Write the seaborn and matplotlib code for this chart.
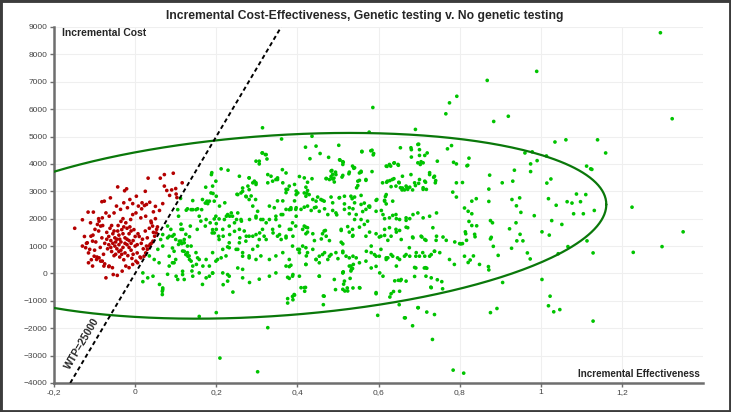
import numpy as np
import pandas as pd
import matplotlib
matplotlib.use("Agg")
import matplotlib.pyplot as plt
import seaborn as sns
from matplotlib.patches import Rectangle
from matplotlib.ticker import FixedLocator, FixedFormatter

# willingness-to-pay threshold (cost per unit of effect)
WTP = 25000

# simulations above the WTP line (not cost-effective)
red_pts = [
    (-0.149, 1650), (-0.130, 1960), (-0.116, 2240), (-0.103, 2240), (-0.082, 2620), (-0.076, 2640),
    (-0.061, 2760), (-0.043, 3160), (-0.026, 3020), (-0.021, 3090), (0.003, 2820), (0.025, 3000),
    (0.032, 3480), (0.062, 3480), (0.072, 3610), (0.094, 3660), (0.116, 3310), (0.100, 3100),
    (0.101, 2900), (0.103, 2770), (0.078, 3030), (0.072, 3190), (0.017, 2580), (0.028, 2520),
    (0.036, 2600), (0.008, 2460), (0.016, 2360), (0.023, 2480), (0.060, 2300), (0.068, 2550),
    (0.085, 2850), (0.090, 3050), (0.045, 2250), (0.050, 2450),
    (-0.013, 2700), (-0.006, 2550), (-0.019, 2400), (-0.028, 2580), (-0.036, 2340), (-0.046, 2460),
    (-0.052, 2210), (-0.064, 2090), (-0.072, 2210), (-0.081, 2030), (-0.089, 1910), (-0.093, 1790),
    (-0.085, 1730), (-0.099, 1610), (-0.109, 1360), (-0.105, 1180), (-0.118, 1120), (-0.112, 880),
    (-0.122, 940), (-0.101, 630), (-0.095, 510), (-0.089, 570), (-0.081, 450), (-0.115, 390),
    (-0.105, 270), (-0.077, 270), (-0.064, 270), (-0.056, 210), (-0.054, -40), (-0.044, -70),
    (-0.072, -160), (-0.032, 85), (-0.023, 270), (-0.015, 210), (-0.006, 330), (0.006, 390),
    (0.014, 570), (0.022, 630), (0.026, 750), (0.030, 880), (0.037, 1060), (0.035, 1000),
    (0.044, 1180), (0.048, 1360), (0.052, 1480), (0.053, 1610), (0.043, 1730), (0.039, 1910),
    (0.026, 2090), (0.014, 2030), (0.002, 2210), (-0.006, 2150), (-0.011, 1970),
    (-0.070, 1500), (-0.065, 1350), (-0.060, 1200), (-0.055, 1100), (-0.050, 1000), (-0.045, 1250),
    (-0.040, 1400), (-0.035, 1150), (-0.030, 950), (-0.025, 1300), (-0.020, 1050), (-0.015, 1450),
    (-0.010, 850), (-0.005, 1200), (0.000, 1000), (0.005, 750), (0.010, 1350), (0.015, 1100),
    (0.020, 900), (0.025, 1550), (-0.068, 900), (-0.062, 1650), (-0.058, 800), (-0.052, 1550),
    (-0.048, 700), (-0.042, 1750), (-0.038, 600), (-0.033, 1600), (-0.028, 500), (-0.023, 1850),
    (-0.018, 650), (-0.013, 1700), (-0.008, 550), (-0.003, 1600), (0.002, 450), (0.007, 1450),
    (0.012, 600), (0.018, 1250), (0.028, 1000), (-0.075, 1100), (-0.078, 700), (-0.082, 1300),
    (-0.086, 950), (-0.090, 1550), (-0.094, 600), (-0.097, 1150), (-0.100, 850), (-0.104, 1400),
    (-0.108, 500), (-0.040, 1050), (-0.035, 850), (-0.030, 1450), (-0.025, 750), (-0.020, 1250),
    (-0.015, 950), (-0.010, 1550), (-0.005, 700), (0.000, 1350), (0.005, 1050), (-0.055, 1450),
    (-0.050, 1300), (-0.045, 900), (-0.040, 800), (-0.035, 1900), (-0.030, 2000), (-0.025, 1100),
    (-0.020, 1650), (-0.015, 1200), (-0.010, 1100), (-0.070, 1250), (-0.065, 1050), (-0.060, 950),
    (-0.058, 1750), (-0.052, 650), (-0.048, 1150), (-0.043, 1550), (-0.038, 1250), (-0.033, 700),
    (-0.028, 1700), (0.030, 1300), (0.040, 1100), (0.035, 1650), (0.040, 1850), (0.045, 1500),
    (0.050, 2000), (0.055, 1700), (-0.120, 1100), (-0.125, 1350), (-0.115, 750), (-0.130, 1000),
    (-0.110, 1850), (-0.090, 2000), (-0.080, 1750), (-0.085, 450), (-0.075, 350), (-0.065, 250),
]

# simulations below the WTP line (cost-effective)
green_pts = [
    # right-hand side and outliers
    (1.295, 8790), (0.990, 7380), (0.868, 7050), (0.793, 6470), (0.775, 6230), (0.766, 5830),
    (0.884, 5550), (0.920, 5740), (1.324, 5650), (0.691, 5260), (1.140, 4880), (1.062, 4880),
    (1.035, 4800), (1.160, 4400), (1.113, 3920), (1.123, 3820), (1.126, 3800), (1.225, 2420),
    (1.014, 4290), (0.979, 4440), (0.961, 4400), (0.975, 4000), (0.975, 3720), (0.991, 4120),
    (0.823, 4210), (0.818, 3930), (0.820, 3950), (0.935, 3770), (0.874, 3590), (0.807, 3320),
    (0.931, 3370), (0.905, 3310), (1.025, 3450), (1.015, 3300), (0.872, 3080), (0.841, 2730),
    (0.830, 2640), (0.929, 2700), (0.948, 2760), (0.872, 2630), (1.019, 2730), (1.088, 2900),
    (1.111, 2880), (1.065, 2620), (1.077, 2570), (1.098, 2620), (1.038, 2490), (0.940, 2470),
    (0.812, 2390), (0.821, 2270), (0.830, 2180), (1.132, 2300), (0.951, 2230), (1.081, 2180),
    (1.105, 2180), (0.984, 2110), (0.876, 1930), (0.881, 1850), (0.823, 1900), (0.830, 1750),
    (0.842, 1740), (0.939, 1850), (1.027, 1930), (1.052, 1790), (0.923, 1630), (1.003, 1520),
    (1.021, 1400), (0.814, 1520), (0.815, 1450), (0.837, 1430), (0.838, 1340), (0.949, 1430),
    (0.878, 1320), (0.876, 1260), (0.941, 1190), (0.956, 1190), (0.807, 1090), (0.803, 1080),
    (1.114, 1190), (0.883, 990), (1.067, 980), (0.928, 920), (0.967, 750), (1.043, 720),
    (1.129, 750), (0.812, 630), (0.834, 640), (0.826, 490), (0.821, 400), (0.895, 660),
    (0.974, 530), (0.849, 330), (0.871, 250), (0.872, 130), (1.228, 770), (1.299, 980),
    (1.351, 1520), (0.906, -330), (1.003, -220), (1.023, -830), (1.019, -1180), (1.032, -1400),
    (1.047, -1320), (0.876, -1430), (0.892, -1280), (1.129, -1740),
    # lower part
    (0.209, -3090), (0.302, -3590), (0.784, -3530), (0.810, -3640), (0.733, -2410), (0.327, -1980),
    (0.200, -1430), (0.158, -1570), (0.598, -1530), (0.666, -1620), (0.684, -1910), (0.698, -1250),
    (0.719, -1410), (0.651, -1140), (0.628, -860), (0.631, -740), (0.594, -740), (0.393, -790),
    (0.388, -840), (0.376, -920), (0.464, -820), (0.464, -1140), (0.494, -590), (0.517, -640),
    (0.523, -530), (0.537, -530), (0.554, -530), (0.420, -510), (0.241, -680), (0.265, -160),
    (0.191, 10), (0.175, -160), (0.217, -410), (0.228, -280), (0.729, -500), (0.758, -560),
    (0.745, -230), (0.756, -300), (0.716, 210), (0.719, 190), (0.689, 220), (0.689, -110),
    (0.640, -270), (0.649, -250), (0.654, -260), (0.637, -660), (0.619, 510), (0.611, -100),
    (0.594, 260), (0.513, 60), (0.514, -390), (0.530, -180), (0.536, 180), (0.538, 330),
    (0.380, 250), (0.384, 300), (0.380, -180), (0.376, -140),
    # middle band 0.4 - 0.8
    (0.586, 6060), (0.577, 5160), (0.436, 5010), (0.420, 4610), (0.446, 4650), (0.477, 4240),
    (0.502, 4680), (0.504, 4150), (0.512, 4080), (0.456, 4380), (0.431, 4190), (0.559, 4440),
    (0.581, 4480), (0.587, 4330), (0.654, 4590), (0.638, 4030), (0.649, 3950), (0.621, 3910),
    (0.630, 3920), (0.681, 4520), (0.681, 4250), (0.699, 4720), (0.701, 4520), (0.720, 4400),
    (0.705, 4080), (0.703, 3980), (0.745, 4100), (0.770, 4550), (0.780, 4670), (0.785, 4060),
    (0.792, 4000), (0.485, 3760), (0.494, 3700), (0.483, 3540), (0.490, 3480), (0.479, 3430),
    (0.471, 3460), (0.491, 3340), (0.510, 3520), (0.527, 3640), (0.539, 3840), (0.557, 3700),
    (0.553, 3400), (0.549, 3210), (0.546, 3130), (0.569, 3400), (0.584, 3720), (0.405, 3540),
    (0.417, 3490), (0.436, 3460), (0.425, 3330), (0.421, 3150), (0.425, 3030), (0.423, 2930),
    (0.620, 3330), (0.628, 3390), (0.638, 3460), (0.631, 3170), (0.650, 3330), (0.654, 3130),
    (0.658, 3050), (0.664, 3050), (0.670, 3130), (0.677, 3150), (0.684, 3050), (0.691, 3210),
    (0.699, 3290), (0.710, 3130), (0.716, 3330), (0.726, 3610), (0.736, 3510), (0.741, 3390),
    (0.792, 3310), (0.783, 2970), (0.792, 2790), (0.450, 2790), (0.462, 2670), (0.483, 2790),
    (0.504, 2770), (0.516, 2540), (0.535, 2730), (0.541, 2790), (0.557, 2850), (0.565, 2570),
    (0.576, 2450), (0.594, 2670), (0.617, 2810), (0.615, 2670), (0.619, 2540), (0.417, 2420),
    (0.434, 2300), (0.446, 2420), (0.467, 2360), (0.487, 2300), (0.497, 2140), (0.528, 2180),
    (0.537, 2360), (0.561, 2260), (0.578, 2420), (0.607, 2300), (0.615, 2000), (0.635, 2120),
    (0.644, 2000), (0.668, 1940), (0.677, 2000), (0.421, 1690), (0.425, 1510), (0.421, 1450),
    (0.438, 1450), (0.442, 1200), (0.459, 1260), (0.462, 1450), (0.469, 1570), (0.479, 1200),
    (0.508, 1570), (0.524, 1710), (0.528, 1510), (0.537, 1390), (0.508, 1140), (0.512, 1080),
    (0.553, 1690), (0.565, 1790), (0.578, 1510), (0.594, 1450), (0.602, 1330), (0.615, 1390),
    (0.623, 1210), (0.644, 1510), (0.652, 1570), (0.668, 1690), (0.684, 1330), (0.707, 1330),
    (0.717, 1210), (0.742, 1210), (0.759, 1330), (0.767, 1210), (0.788, 1150), (0.800, 1090),
    (0.817, 1210), (0.405, 880), (0.421, 940), (0.446, 510), (0.454, 630), (0.467, 760),
    (0.479, 630), (0.483, 690), (0.500, 540), (0.512, 760), (0.520, 630), (0.537, 630),
    (0.570, 810), (0.582, 1000), (0.590, 690), (0.602, 630), (0.623, 570), (0.635, 630),
    (0.652, 510), (0.668, 690), (0.677, 630), (0.693, 760), (0.701, 630), (0.714, 630),
    (0.730, 690), (0.738, 810), (0.751, 760), (0.775, 510), (0.787, 330), (0.421, 330),
    (0.454, 390), (0.512, 30), (0.528, 270), (0.533, 150), (0.491, -220), (0.516, -280),
    (0.730, -160), (0.652, -650), (0.409, -520), (0.454, -100),
    # left band 0 - 0.4
    (0.314, 5320), (0.361, 4910), (0.313, 4400), (0.321, 4340), (0.325, 4180), (0.298, 4100),
    (0.306, 4000), (0.189, 3680), (0.212, 3820), (0.229, 3770), (0.188, 3610), (0.199, 3370),
    (0.174, 3150), (0.192, 2920), (0.177, 2640), (0.142, 2660), (0.112, 2740), (0.105, 2330),
    (0.129, 2360), (0.142, 2330), (0.154, 2360), (0.164, 2330), (0.107, 2090), (0.257, 3550),
    (0.281, 3490), (0.294, 3370), (0.298, 3310), (0.278, 3190), (0.265, 3000), (0.251, 2890),
    (0.274, 2800), (0.286, 2830), (0.297, 2700), (0.327, 3610), (0.335, 3550), (0.347, 3430),
    (0.351, 3490), (0.363, 3790), (0.372, 3670), (0.380, 3190), (0.372, 3070), (0.372, 2950),
    (0.397, 3010), (0.200, 2820), (0.195, 2640), (0.208, 2460), (0.221, 2580), (0.225, 2090),
    (0.233, 2090), (0.237, 2210), (0.250, 1970), (0.262, 1910), (0.282, 1970), (0.298, 2030),
    (0.315, 1970), (0.331, 1970), (0.347, 2090), (0.364, 2150), (0.380, 2330), (0.397, 2400),
    (0.136, 1730), (0.153, 1610), (0.173, 1730), (0.185, 1850), (0.190, 1480), (0.200, 1610),
    (0.217, 1360), (0.233, 1420), (0.245, 1540), (0.258, 1300), (0.274, 1360), (0.290, 1360),
    (0.307, 1480), (0.323, 1240), (0.340, 1480), (0.356, 1420), (0.372, 1300), (0.389, 1360),
    (0.413, 1610), (0.068, 1420), (0.080, 1300), (0.092, 1360), (0.109, 1180), (0.121, 1120),
    (0.138, 1000), (0.117, 820), (0.129, 760), (0.133, 640), (0.150, 760), (0.158, 510),
    (0.175, 510), (0.191, 760), (0.203, 510), (0.224, 640), (0.232, 940), (0.249, 880),
    (0.265, 760), (0.281, 640), (0.298, 510), (0.310, 640), (0.331, 510), (0.347, 640),
    (0.364, 760), (0.380, 510), (0.405, 760), (0.422, 640), (0.035, 640), (0.047, 510),
    (0.059, 390), (0.084, 270), (0.096, 390), (0.117, 80), (0.142, -100), (0.158, 20),
    (0.183, -100), (0.216, 20), (0.232, -100), (0.253, 200), (0.265, 150), (0.282, -330),
    (0.306, -210), (0.331, -100), (0.347, 20), (0.372, 270), (0.389, -40), (0.405, -100),
    (0.019, 20), (0.031, -160), (0.068, -530), (0.068, -590), (0.121, -220), (0.166, -400),
    (0.376, -1080), (0.389, -960), (0.418, -650), (0.166, 2700), (0.158, 2090), (0.175, 1970),
    (0.199, 2090), (0.080, 1730), (0.088, 1610), (0.096, 1420), (0.113, 1610), (0.121, 1240),
    (0.129, 1000), (0.063, 1240), (0.068, 1000), (0.056, 880), (0.044, -100), (0.019, -300),
    (0.060, -400), (0.101, -100), (0.117, -40), (0.151, 330), (0.167, 270),
    # second, closer reading of the dense part 0.1 - 0.75
    (0.191, 3190), (0.187, 2940), (0.183, 2640), (0.179, 2550), (0.173, 2570), (0.138, 2330),
    (0.150, 2330), (0.126, 2310), (0.162, 1910), (0.195, 1990), (0.207, 1990), (0.200, 1820),
    (0.191, 1600), (0.195, 1480), (0.206, 1360), (0.113, 1800), (0.117, 1610), (0.125, 1430),
    (0.134, 1340), (0.084, 1360), (0.100, 1240), (0.107, 1060), (0.113, 1180), (0.115, 1090),
    (0.092, 930), (0.096, 810), (0.084, 630), (0.121, 810), (0.125, 690), (0.130, 630),
    (0.134, 510), (0.138, 450), (0.142, 270), (0.140, 90), (0.154, 570), (0.100, 510),
    (0.092, 390), (0.080, -30), (0.105, -220), (0.067, -650), (0.067, -770), (0.228, -40),
    (0.191, 20), (0.183, 270), (0.199, 450), (0.212, 570), (0.216, 880), (0.228, 970),
    (0.232, 1120), (0.207, 1240), (0.216, 1610), (0.232, 1730), (0.245, 1850), (0.240, 2090),
    (0.228, 2150), (0.220, 1970), (0.253, 2210), (0.261, 1970), (0.257, 1610), (0.269, 1550),
    (0.281, 1360), (0.273, 1180), (0.257, 1120), (0.253, 880), (0.265, 630), (0.281, 570),
    (0.290, 880), (0.302, 1000), (0.306, 1240), (0.298, 1420), (0.314, 1610), (0.318, 1360),
    (0.323, 1850), (0.310, 1970), (0.298, 2090), (0.302, 2270), (0.290, 2460), (0.281, 2700),
    (0.273, 2820), (0.261, 2940), (0.253, 2880), (0.265, 3120), (0.281, 3060), (0.290, 3310),
    (0.281, 3490), (0.298, 3250), (0.331, 2460), (0.343, 2400), (0.351, 2650), (0.364, 2650),
    (0.372, 2340), (0.360, 2150), (0.347, 1970), (0.356, 1730), (0.339, 1610), (0.351, 1360),
    (0.360, 1240), (0.372, 1360), (0.380, 1610), (0.388, 1850), (0.397, 2090), (0.384, 2400),
    (0.393, 2650), (0.397, 2880), (0.376, 3070), (0.364, 3310), (0.351, 3430), (0.339, 3370),
    (0.327, 3310), (0.323, 4340), (0.314, 4400), (0.306, 4100),
    (0.505, 4140), (0.513, 4060), (0.512, 3980), (0.483, 3740), (0.487, 3620), (0.471, 3470),
    (0.487, 3450), (0.495, 3610), (0.512, 3580), (0.528, 3700), (0.536, 3920), (0.541, 3860),
    (0.553, 3670), (0.557, 3730), (0.549, 3370), (0.569, 3430), (0.559, 4460), (0.584, 4500),
    (0.588, 4380), (0.619, 3920), (0.627, 3980), (0.639, 4040), (0.648, 3980), (0.610, 3310),
    (0.622, 3370), (0.634, 3430), (0.643, 3190), (0.651, 3310), (0.659, 3120), (0.668, 3190),
    (0.672, 3070), (0.659, 3550), (0.680, 3610), (0.689, 3310), (0.701, 3430), (0.710, 3070),
    (0.718, 3070), (0.714, 3370), (0.726, 3680), (0.738, 3550), (0.740, 3310), (0.697, 4040),
    (0.701, 4310), (0.714, 4310), (0.710, 4040), (0.680, 4590), (0.697, 4710), (0.393, 3250),
    (0.401, 2940), (0.417, 2940), (0.421, 2820), (0.429, 2880), (0.438, 2700), (0.446, 2640),
    (0.458, 2700), (0.466, 2640), (0.487, 2580), (0.503, 2760), (0.516, 2820), (0.532, 2820),
    (0.541, 2580), (0.557, 2520), (0.569, 2340), (0.578, 2460), (0.596, 2700), (0.615, 2640),
    (0.619, 2880), (0.635, 2640), (0.384, 2340), (0.396, 2340), (0.409, 2340), (0.425, 2460),
    (0.442, 2400), (0.454, 2270), (0.475, 2150), (0.495, 2210), (0.516, 2340), (0.528, 2400),
    (0.541, 1970), (0.545, 2150), (0.557, 1970), (0.573, 1910), (0.594, 2270), (0.611, 2150),
    (0.627, 2030), (0.643, 2150), (0.652, 1970), (0.668, 2030), (0.685, 2150), (0.697, 2210),
    (0.710, 2030), (0.726, 2090), (0.743, 2210), (0.384, 1610), (0.396, 1730), (0.417, 1730),
    (0.425, 1670), (0.466, 1550), (0.471, 1360), (0.508, 1610), (0.536, 1360), (0.536, 1610),
    (0.569, 1360), (0.606, 1360), (0.615, 1610), (0.627, 1670), (0.631, 1360), (0.643, 1610),
    (0.656, 1240), (0.672, 1670), (0.685, 1300), (0.705, 1360), (0.714, 1240), (0.734, 1670),
    (0.743, 1360), (0.388, 1000), (0.401, 880), (0.413, 1000), (0.425, 760), (0.438, 880),
    (0.446, 510), (0.462, 690), (0.475, 510), (0.495, 760), (0.512, 810), (0.528, 570),
    (0.545, 570), (0.553, 390), (0.569, 450), (0.582, 760), (0.594, 630), (0.606, 880),
    (0.619, 570), (0.631, 690), (0.647, 570), (0.664, 630), (0.676, 940), (0.692, 630),
    (0.709, 760), (0.726, 630), (0.738, 810), (0.388, -100), (0.421, 330), (0.454, -100),
    (0.512, 20), (0.532, 270), (0.532, 90), (0.582, 200), (0.603, 20), (0.644, 270),
    (0.656, -220), (0.668, -280), (0.692, 200), (0.713, 200), (0.717, -100), (0.730, -520),
    (0.392, -770), (0.417, -520), (0.466, -830), (0.512, -580), (0.524, -640), (0.553, -520),
    (0.594, -700), (0.664, -1620), (0.697, -1250), (0.738, -1500),
]

# 95% ellipse around the joint distribution (centre and covariance as read)
ell_center = (0.34, 1740)
ell_cov = [[0.675, 640.0], [640.0, 1.15e7]]

x_ticks = [-0.2, 0, 0.2, 0.4, 0.6, 0.8, 1, 1.2]
x_labels = ['-0,2', '0', '0,2', '0,4', '0,6', '0,8', '1', '1,2']
y_ticks = list(range(-4000, 9001, 1000))

red = pd.DataFrame(red_pts, columns=['effect', 'cost'])
red['group'] = 'above'
green = pd.DataFrame(green_pts, columns=['effect', 'cost'])
green['group'] = 'below'
df = pd.concat([green, red], ignore_index=True)

sns.set_style('white')
plt.rcParams['font.family'] = ['Liberation Sans', 'DejaVu Sans']

fig = plt.figure(figsize=(7.31, 4.12), dpi=100)
ax = fig.add_axes([0.0739, 0.0704, 0.8878, 0.8641])

sns.scatterplot(data=df, x='effect', y='cost', hue='group',
                palette={'below': '#00c400', 'above': '#b40000'},
                s=7, linewidth=0, legend=False, ax=ax, zorder=3)

# confidence ellipse
t = np.linspace(0, 2 * np.pi, 400)
L = np.linalg.cholesky(np.array(ell_cov))
pts = L @ np.vstack([np.cos(t), np.sin(t)])
ax.plot(ell_center[0] + pts[0], ell_center[1] + pts[1], color='#0a780a', lw=1.6, zorder=4)

# WTP line
ax.axline((0, 0), slope=WTP, color='black', lw=1.4, ls=(0, (2.2, 1.6)), zorder=5)

ax.set_xlim(-0.2, 1.4)
ax.set_ylim(-4000, 9000)
ax.xaxis.set_major_locator(FixedLocator(x_ticks))
ax.xaxis.set_major_formatter(FixedFormatter(x_labels))
ax.set_yticks(y_ticks)
ax.set_xlabel('')
ax.set_ylabel('')
ax.grid(True, color='#efefef', lw=0.8)
ax.set_axisbelow(True)
for side in ['top', 'right']:
    ax.spines[side].set_visible(False)
for side in ['left', 'bottom']:
    ax.spines[side].set_color('#6e6e6e')
    ax.spines[side].set_linewidth(1.8)
ax.tick_params(axis='both', length=3, width=1, color='#6e6e6e', labelsize=6,
               labelcolor='#444444', pad=1.5, direction='out')
ax.tick_params(axis='both', which='both', bottom=True, left=True)

# rotated WTP label following the line on screen
fig.canvas.draw()
p0 = ax.transData.transform((0, 0))
p1 = ax.transData.transform((0.1, 0.1 * WTP))
angle = np.degrees(np.arctan2(p1[1] - p0[1], p1[0] - p0[0]))
ax.text(-0.131, -2550, 'WTP=25000', rotation=angle, rotation_mode='anchor',
        ha='center', va='center', fontsize=7.5, fontweight='bold', zorder=6)

ax.text(0.012, 0.982, 'Incremental Cost', transform=ax.transAxes, ha='left', va='center',
        fontsize=7.5, fontweight='bold')
ax.text(0.995, 0.024, 'Incremental Effectiveness', transform=ax.transAxes, ha='right',
        va='center', fontsize=7.1, fontweight='bold')

fig.text(365 / 731, 1 - 16 / 412, 'Incremental Cost-Effectiveness, Genetic testing v. No genetic testing',
         ha='center', va='center', fontsize=8.7, fontweight='bold')

# dark frame round the picture
fig.patches.append(Rectangle((0, 0), 1, 1, transform=fig.transFigure, fill=False,
                             edgecolor='#3c3c3c', linewidth=3.5))

fig.savefig('out.png', dpi=100)
